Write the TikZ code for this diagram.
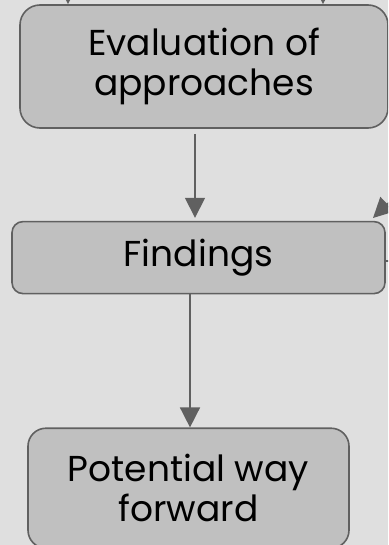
\documentclass[tikz,border=0pt]{standalone}
\usepackage{fontspec}
\setmainfont{Poppins}
\usetikzlibrary{positioning,arrows.meta}
\definecolor{bgGray}{HTML}{DFDFDF}
\definecolor{boxGray}{HTML}{C0C0C0}
\definecolor{lineGray}{HTML}{606060}
\tikzset{main box/.style={rectangle,draw=lineGray,fill=boxGray,line width=1.6pt,
    align=center,inner sep=0pt,font=\fontsize{36}{40}\selectfont},
  flow/.style={color=lineGray,line width=1.6pt,-{Triangle[width=20pt,length=20pt]}},
}

\begin{document}
\begin{tikzpicture}[x=1pt,y=1pt,node distance=92pt]
	\fill[bgGray] (0,0) rectangle (388,-545);
	\useasboundingbox (0,0) rectangle (388,-545);
	\clip (0,0) rectangle (388,-545);
	
	\node[main box,rounded corners=20pt,minimum width=368pt,minimum height=123pt] (eval) at (204,-66.5) {Evaluation of\\approaches};
	\node[main box,rounded corners=11pt,minimum width=373pt,minimum height=72pt] (find) [below = of eval,xshift=-5.5pt] {Findings};
	\node[main box,rounded corners=18pt,minimum width=321pt,minimum height=120pt] (fwd) [below = 133pt of find,xshift=-10pt] {Potential way\\forward};
	
	\coordinate (in1) at (68,30);
	\coordinate (in2) at (323,30);
	\coordinate (back) at (402,-190);
	\coordinate (out) at (400,-261);
	
	\draw[flow] (in1) -- ([xshift=-136pt]eval.north);
	\draw[flow] (in2) -- ([xshift=119pt]eval.north);
	\draw[flow] ([xshift=-9pt,yshift=-5pt]eval.south) -- ([xshift=-3.5pt,yshift=3pt]find.north);
	\draw[flow] ([xshift=-8.5pt]find.south) -- ([xshift=1.5pt]fwd.north);
	\draw[flow] (back) -- (373,-218);
	\draw[color=lineGray,line width=1.6pt] (find.east |- out) -- (out);
\end{tikzpicture}
\end{document}
